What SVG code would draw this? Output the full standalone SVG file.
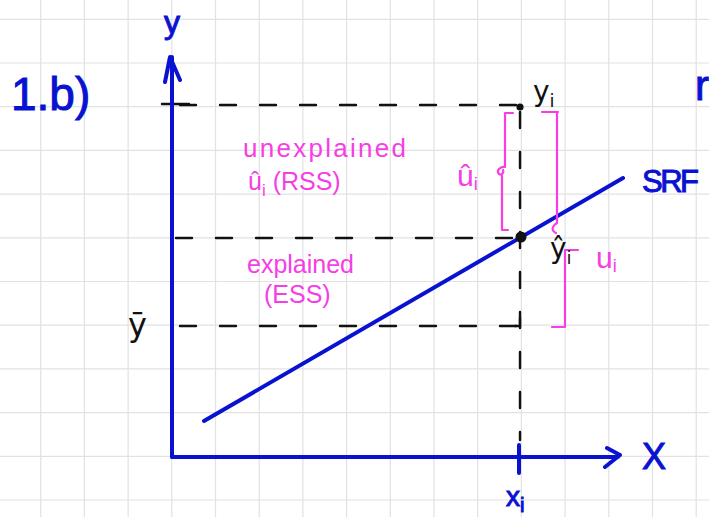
<svg xmlns="http://www.w3.org/2000/svg" width="709" height="517" viewBox="0 0 709 517">
<style>
.grid{stroke:#e2e2e2;stroke-width:1.2;fill:none}
.blue{stroke:#0a12d2;stroke-width:4;fill:none;stroke-linecap:round;stroke-linejoin:round}
.dash{stroke:#111;stroke-width:2.4;fill:none;stroke-linecap:round;stroke-dasharray:16 24}
.pink{stroke:#f53ee4;stroke-width:2.2;fill:none;stroke-linecap:round;stroke-linejoin:round}
.tb{font-family:"Liberation Sans","DejaVu Sans",sans-serif;fill:#0a12d2;stroke:#0a12d2;stroke-width:1}
.tk{font-family:"DejaVu Sans","Liberation Sans",sans-serif;fill:#111}
.tp{font-family:"Liberation Sans","DejaVu Sans",sans-serif;fill:#f53ee4}
</style>
<rect width="709" height="517" fill="#fff"/>
<path class="grid" d="M40.7 0V517M84.4 0V517M128.1 0V517M171.8 0V517M215.5 0V517M259.2 0V517M302.9 0V517M346.6 0V517M390.3 0V517M434 0V517M477.7 0V517M521.4 0V517M565.1 0V517M608.8 0V517M652.5 0V517M696.2 0V517M0 19.3H709M0 63H709M0 106.7H709M0 150.4H709M0 194.1H709M0 237.8H709M0 281.5H709M0 325.2H709M0 368.9H709M0 412.6H709M0 456.3H709M0 500H709"/>
<g id="connectors">
<path class="dash" d="M180 105H520"/>
<path class="dash" d="M176 238H515"/>
<path class="dash" d="M180 326H520"/>
<path class="dash" d="M520 112V440"/>
<path d="M162 104H189M515 326H520V318" stroke="#111" stroke-width="2.4" fill="none" stroke-linecap="round"/>
<path class="blue" d="M172 457V57M165 82L170 57L180 80"/>
<path class="blue" d="M172 457H618M607 448L620 455L605 467"/>
<path class="blue" d="M519 445V473"/>
<path class="blue" d="M204 421L623 178"/>
<path class="pink" d="M513 113H505V167C500 166 496 171 499 174C502 176 504 172 503 170M502 176V230H508"/>
<path class="pink" d="M542 112H558M557 112V223C553 225 550 230 556 233"/>
<path class="pink" d="M578 250H565V327H552"/>
</g>
<g id="point-yi"><circle cx="520" cy="107" r="3.6" fill="#111"/></g>
<g id="point-yhat"><circle cx="521" cy="237" r="5.5" fill="#111"/></g>
<g id="label-1b"><text class="tb" x="11" y="110" font-size="46">1.b)</text></g>
<g id="label-y"><text class="tb" x="164" y="33" font-size="32">y</text></g>
<g id="label-X"><text class="tb" x="642" y="469" font-size="36">X</text></g>
<g id="label-xi"><text class="tb" x="506" y="506" font-size="28">x<tspan font-size="20" dy="6">i</tspan></text></g>
<g id="label-SRF"><text class="tb" x="642" y="192" font-size="31" textLength="57">SRF</text></g>
<g id="label-r"><text class="tb" x="695" y="100" font-size="42">r</text></g>
<g id="label-yi"><text class="tk" x="533" y="101" font-size="28">y<tspan font-size="18" dy="6">i</tspan></text></g>
<g id="label-ybar"><text class="tk" x="128" y="336" font-size="32">ȳ</text></g>
<g id="label-yhat"><text class="tk" x="550" y="258" font-size="28">ŷ<tspan font-size="18" dy="6">i</tspan></text></g>
<g id="label-unexplained"><text class="tp" x="243" y="157" font-size="26" textLength="163">unexplained</text>
<text class="tp" x="248" y="190" font-size="25">û<tspan font-size="17" dy="6">i</tspan><tspan dy="-6"> (RSS)</tspan></text></g>
<g id="label-explained"><text class="tp" x="247" y="273" font-size="25" textLength="107">explained</text>
<text class="tp" x="264" y="303" font-size="25">(ESS)</text></g>
<g id="label-uhat"><text class="tp" x="457" y="186" font-size="30">û<tspan font-size="18" dy="4">i</tspan></text></g>
<g id="label-ui"><text class="tp" x="596" y="268" font-size="30">u<tspan font-size="18" dy="4">i</tspan></text></g>
</svg>
